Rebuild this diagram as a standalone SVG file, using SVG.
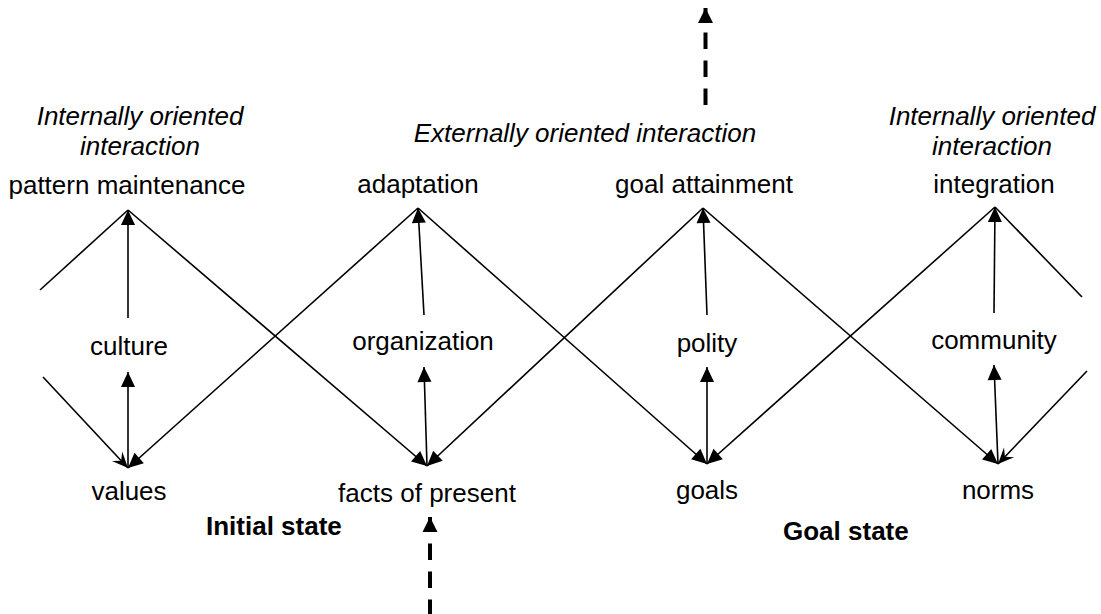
<svg xmlns="http://www.w3.org/2000/svg" width="1101" height="614" viewBox="0 0 1101 614">
  <defs>
    <marker id="arr" markerUnits="userSpaceOnUse" markerWidth="17" markerHeight="16" viewBox="-16 -8 17 16" refX="0" refY="0" orient="auto">
      <path d="M-15,-7 L0,0 L-15,7 z" fill="#000"/>
    </marker>
    <marker id="stealth" markerUnits="userSpaceOnUse" markerWidth="18" markerHeight="16" viewBox="-17 -8 18 16" refX="0" refY="0" orient="auto">
      <path d="M-16,-7 L0,0 L-16,7 L-10,0 z" fill="#000"/>
    </marker>
    <marker id="arrBig" markerUnits="userSpaceOnUse" markerWidth="17" markerHeight="16" viewBox="-16 -8 17 16" refX="0" refY="0" orient="auto">
      <path d="M-15,-7.5 L0,0 L-15,7.5 z" fill="#000"/>
    </marker>
  </defs>
  <style>
    text { font-family: "Liberation Sans", Arial, sans-serif; font-size: 26px; fill: #000; text-anchor: middle; }
    .it { font-style: italic; }
    .b { font-weight: bold; text-anchor: start; }
    .ln { stroke: #000; stroke-width: 1.6; fill: none; }
    .a { marker-end: url(#arr); }
    .s { marker-end: url(#stealth); }
    .dash { stroke: #000; stroke-width: 4; fill: none; stroke-dasharray: 16.5 11.5; marker-end: url(#arrBig); }
  </style>

  <g id="connectors">
    <line class="ln" x1="40" y1="290" x2="128" y2="210"/>
    <line class="ln a" x1="128" y1="210" x2="427" y2="466"/>
    <line class="ln a" x1="418" y1="208" x2="128" y2="468"/>
    <line class="ln a" x1="418" y1="208" x2="707" y2="464"/>
    <line class="ln a" x1="703" y1="208" x2="427" y2="466"/>
    <line class="ln a" x1="703" y1="208" x2="998" y2="464"/>
    <line class="ln a" x1="995" y1="207" x2="707" y2="464"/>
    <line class="ln" x1="995" y1="207" x2="1082" y2="297"/>
    <line class="ln s" x1="43" y1="377" x2="128" y2="468"/>
    <line class="ln s" x1="1087" y1="371" x2="998" y2="464"/>

    <line class="ln a" x1="128" y1="318" x2="128" y2="210"/>
    <line class="ln a" x1="128" y1="468" x2="128" y2="372"/>
    <line class="ln a" x1="424" y1="315" x2="418" y2="208"/>
    <line class="ln a" x1="427" y1="466" x2="424" y2="367"/>
    <line class="ln a" x1="707" y1="315" x2="703" y2="208"/>
    <line class="ln a" x1="707" y1="464" x2="707" y2="367"/>
    <line class="ln a" x1="994" y1="313" x2="995" y2="207"/>
    <line class="ln a" x1="998" y1="464" x2="994" y2="365"/>

    <path class="dash" d="M705.5,105 L705.5,8"/>
    <path class="dash" d="M430,614 L430,517" style="stroke-dashoffset:2"/>
  </g>

  <g id="label-internal-left">
    <text class="it" x="140" y="125">Internally oriented</text>
    <text class="it" x="140" y="155">interaction</text>
  </g>
  <g id="label-external">
    <text class="it" x="585" y="142">Externally oriented interaction</text>
  </g>
  <g id="label-internal-right">
    <text class="it" x="992" y="125">Internally oriented</text>
    <text class="it" x="992" y="155">interaction</text>
  </g>

  <g id="node-pattern-maintenance"><text x="127" y="194">pattern maintenance</text></g>
  <g id="node-adaptation"><text x="418" y="193">adaptation</text></g>
  <g id="node-goal-attainment"><text x="704" y="193">goal attainment</text></g>
  <g id="node-integration"><text x="994" y="193">integration</text></g>

  <g id="node-culture"><text x="129" y="355">culture</text></g>
  <g id="node-organization"><text x="423" y="350">organization</text></g>
  <g id="node-polity"><text x="707" y="352">polity</text></g>
  <g id="node-community"><text x="994" y="349">community</text></g>

  <g id="node-values"><text x="129" y="500">values</text></g>
  <g id="node-facts"><text x="427" y="502">facts of present</text></g>
  <g id="node-goals"><text x="707" y="499">goals</text></g>
  <g id="node-norms"><text x="998" y="499">norms</text></g>

  <g id="label-initial-state"><text class="b" x="206" y="535">Initial state</text></g>
  <g id="label-goal-state"><text class="b" x="783" y="540">Goal state</text></g>
</svg>
